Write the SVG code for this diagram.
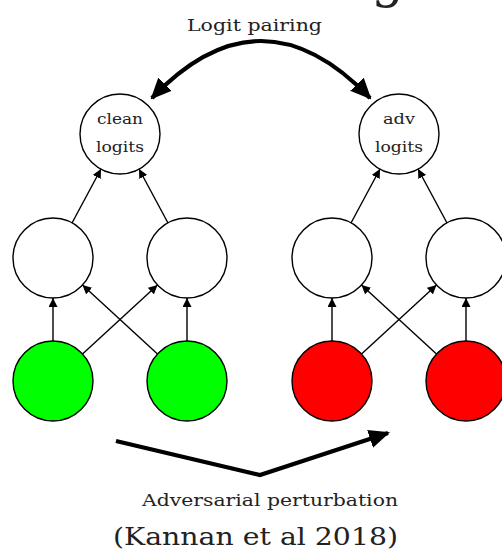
<svg xmlns="http://www.w3.org/2000/svg" width="502" height="556" viewBox="0 0 502 556">
<style>
.n{stroke:#000;stroke-width:1.4}
.w{fill:#fff}
.g{fill:#00ff00}
.r{fill:#ff0000}
.t{font-family:'DejaVu Serif','Liberation Serif',serif;fill:#222;text-anchor:middle}
.e{stroke:#000;stroke-width:1.4;fill:none;marker-end:url(#a)}
.big{stroke:#000;stroke-width:4.2;fill:none}
</style>
<defs>
<marker id="a" viewBox="0 0 10 10" refX="10" refY="5" markerWidth="9" markerHeight="9" markerUnits="userSpaceOnUse" orient="auto">
<path d="M0,0 L10,5 L0,10 z" fill="#000"/>
</marker>
<marker id="b" viewBox="0 0 10 10" refX="9" refY="5" markerWidth="5" markerHeight="5" orient="auto">
<path d="M0,0.5 L10,5 L0,9.5 z" fill="#000"/>
</marker>
<marker id="bs" viewBox="0 0 10 10" refX="1" refY="5" markerWidth="5" markerHeight="5" orient="auto">
<path d="M10,0.5 L0,5 L10,9.5 z" fill="#000"/>
</marker>
</defs>
<text class="t" x="388" y="-4" font-size="52">g</text>
<g id="connectors">
<line class="e" x1="72" y1="223" x2="101" y2="169"/>
<line class="e" x1="168" y1="223" x2="139" y2="169"/>
<line class="e" x1="351" y1="223" x2="380" y2="169"/>
<line class="e" x1="447" y1="223" x2="418" y2="169"/>
<line class="e" x1="53" y1="341" x2="53" y2="298"/>
<line class="e" x1="187" y1="341" x2="187" y2="298"/>
<line class="e" x1="82.5" y1="354" x2="157.5" y2="285"/>
<line class="e" x1="157.5" y1="354" x2="82.5" y2="285"/>
<line class="e" x1="332" y1="341" x2="332" y2="298"/>
<line class="e" x1="466" y1="341" x2="466" y2="298"/>
<line class="e" x1="361.5" y1="354" x2="436.5" y2="285"/>
<line class="e" x1="436.5" y1="354" x2="361.5" y2="285"/>
<path class="big" d="M152,98 Q261,-16 370,98" marker-start="url(#bs)" marker-end="url(#b)"/>
<path class="big" d="M116,441 L260,475 L388,433" marker-end="url(#b)"/>
</g>
<g id="clean_logits"><circle class="n w" cx="120" cy="134" r="40"/><text class="t" x="120" y="124" font-size="15" textLength="46" lengthAdjust="spacingAndGlyphs">clean</text><text class="t" x="120" y="152" font-size="15" textLength="48" lengthAdjust="spacingAndGlyphs">logits</text></g>
<g id="adv_logits"><circle class="n w" cx="399" cy="134" r="40"/><text class="t" x="399" y="124" font-size="15" textLength="32" lengthAdjust="spacingAndGlyphs">adv</text><text class="t" x="399" y="152" font-size="15" textLength="48" lengthAdjust="spacingAndGlyphs">logits</text></g>
<g id="h1"><circle class="n w" cx="53" cy="258" r="40"/></g>
<g id="h2"><circle class="n w" cx="187" cy="258" r="40"/></g>
<g id="h3"><circle class="n w" cx="332" cy="258" r="40"/></g>
<g id="h4"><circle class="n w" cx="466" cy="258" r="40"/></g>
<g id="x1"><circle class="n g" cx="53" cy="381" r="40"/></g>
<g id="x2"><circle class="n g" cx="187" cy="381" r="40"/></g>
<g id="x3"><circle class="n r" cx="332" cy="381" r="40"/></g>
<g id="x4"><circle class="n r" cx="466" cy="381" r="40"/></g>
<text class="t" x="254.5" y="31" font-size="17" textLength="135" lengthAdjust="spacingAndGlyphs">Logit pairing</text>
<text class="t" x="270" y="506" font-size="17" textLength="256" lengthAdjust="spacingAndGlyphs">Adversarial perturbation</text>
<text class="t" x="255.5" y="545" font-size="25" textLength="285" lengthAdjust="spacingAndGlyphs">(Kannan et al 2018)</text>
</svg>
